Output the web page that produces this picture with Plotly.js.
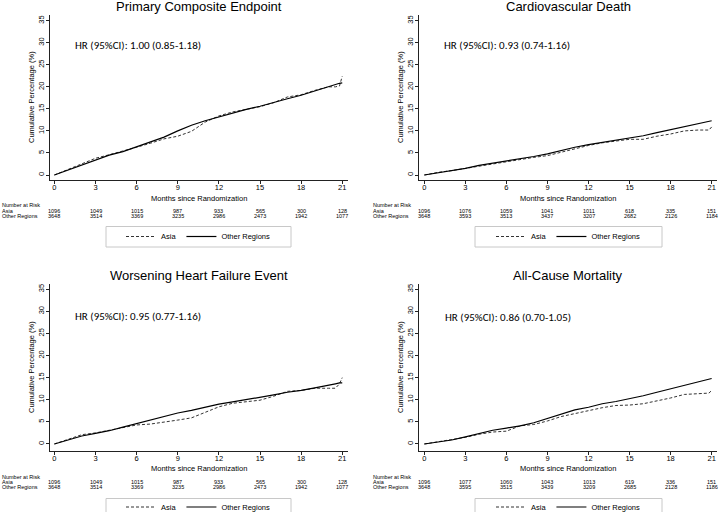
<!DOCTYPE html>
<html><head><meta charset="utf-8">
<script src="https://cdn.plot.ly/plotly-3.0.1.min.js"></script>
<style>html,body{margin:0;padding:0;background:#fff;}#chart{width:719px;height:512px;}</style>
</head><body><div id="chart"></div>
<script>
// ---------- data ----------
const months = [0,1,2,3,4,5,6,7,8,9,10,11,12,13,14,15,16,17,18,19,20,20.5,20.8,21];

const primaryAsia  = [0,1.3,2.6,3.8,4.6,5.4,6.3,7.2,8.2,8.8,9.9,12.0,13.4,14.3,14.9,15.5,16.4,17.7,18.2,19.2,20.0,20.0,20.2,22.4];
const primaryOther = [0,1.1,2.2,3.4,4.5,5.3,6.4,7.4,8.6,10.0,11.3,12.3,13.2,14.1,14.9,15.6,16.5,17.3,18.1,19.1,20.1,20.6,20.8,20.9];

const cvDeathAsia  = [0,0.6,1.0,1.5,2.1,2.6,3.0,3.5,4.0,4.4,5.2,6.0,6.7,7.3,7.7,8.1,8.1,8.8,9.3,10.0,10.2,10.2,10.2,10.9];
const cvDeathOther = [0,0.5,1.0,1.5,2.2,2.7,3.1,3.6,4.2,4.8,5.6,6.3,6.9,7.4,7.8,8.3,8.9,9.6,10.3,11.0,11.7,12.1,12.2,12.3];

const whfAsia  = [0,1.0,2.1,2.5,3.1,3.8,4.3,4.5,4.9,5.4,5.9,7.2,8.4,9.2,9.5,9.9,10.8,11.9,12.1,12.6,12.6,12.6,13.6,15.0];
const whfOther = [0,0.9,1.8,2.4,3.0,3.8,4.6,5.5,6.3,7.0,7.6,8.3,9.0,9.5,10.0,10.5,11.1,11.7,12.1,12.7,13.2,13.6,13.8,13.8];

const acmAsia  = [0,0.5,0.9,1.5,2.2,2.7,2.9,4.1,4.4,5.2,6.2,6.9,7.6,8.2,8.7,8.8,9.1,9.7,10.4,11.2,11.4,11.5,11.5,12.1];
const acmOther = [0,0.4,0.9,1.6,2.4,3.1,3.6,4.1,4.8,5.8,6.8,7.7,8.3,9.1,9.6,10.2,10.9,11.7,12.5,13.2,14.0,14.5,14.7,14.8];

const riskMonths = [0,3,6,9,12,15,18,21];
const riskPrimaryAsia  = [1096,1049,1015,987,933,565,300,128];
const riskPrimaryOther = [3648,3514,3369,3235,2986,2473,1942,1077];
const riskCvAsia  = [1096,1076,1059,1041,1011,618,335,151];
const riskCvOther = [3648,3593,3513,3437,3207,2682,2126,1184];
const riskWhfAsia  = [1096,1049,1015,987,933,565,300,128];
const riskWhfOther = [3648,3514,3369,3235,2986,2473,1942,1077];
const riskAcmAsia  = [1096,1077,1060,1043,1013,619,336,151];
const riskAcmOther = [3648,3595,3515,3439,3209,2685,2128,1186];

const panelTitles = ['Primary Composite Endpoint','Cardiovascular Death','Worsening Heart Failure Event','All-Cause Mortality'];
const hrTexts = ['HR (95%CI): 1.00 (0.85-1.18)','HR (95%CI): 0.93 (0.74-1.16)','HR (95%CI): 0.95 (0.77-1.16)','HR (95%CI): 0.86 (0.70-1.05)'];
const groupNames = ['Asia','Other Regions'];
const xTickVals = [0,3,6,9,12,15,18,21];
const yTickVals = [0,5,10,15,20,25,30,35];
const xTitle = 'Months since Randomization';
const yTitle = 'Cumulative Percentage (%)';
const riskHeader = 'Number at Risk';

const seriesAsia  = [primaryAsia, cvDeathAsia, whfAsia, acmAsia];
const seriesOther = [primaryOther, cvDeathOther, whfOther, acmOther];
const riskAsia  = [riskPrimaryAsia, riskCvAsia, riskWhfAsia, riskAcmAsia];
const riskOther = [riskPrimaryOther, riskCvOther, riskWhfOther, riskAcmOther];

// ---------- layout geometry (pixels) ----------
const W = 719, H = 512;
const px = v => v / W;
const py = v => 1 - v / H;
const FONT = '"Liberation Sans", Arial, sans-serif';
const HRFONT = 'Carlito, Lato, "Liberation Sans", sans-serif';

const panels = [
  {xd:[50,348],  yd:[15,180],    xr:[-0.32,21.42], yr:[-1.13,36.29], titleY:6.5, hrX:72.7,  hrY:45,    labX:0,   riskY:[204.5,210.8,216], xTitleY:198,   yTitleX:31.5, legText:236.5, box:[106,291,226.5,247], legX:121},
  {xd:[419,717], yd:[15,180],    xr:[-0.39,21.39], yr:[-1.13,36.29], titleY:6.5, hrX:441.7, hrY:45,    labX:371, riskY:[204.5,210.8,216], xTitleY:198,   yTitleX:400.5, legText:236.5, box:[475,662,226.5,247], legX:491},
  {xd:[50,348],  yd:[284.3,450.7], xr:[-0.32,21.42], yr:[-1.52,36.1], titleY:275, hrX:72.7,  hrY:316.7, labX:0,   riskY:[476.5,482.3,487.3], xTitleY:468, yTitleX:31.5, legText:507, box:[106,291,498.5,520], legX:121},
  {xd:[419,717], yd:[284.3,450.7], xr:[-0.39,21.39], yr:[-1.52,36.1], titleY:275.5, hrX:442.7, hrY:317.3, labX:371, riskY:[476.5,482.3,487.3], xTitleY:468, yTitleX:400.5, legText:507, box:[475,662,498.5,520], legX:491}
];

const traces = [];
const annotations = [];
const shapes = [];
const layout = {
  width: W, height: H,
  margin: {l:0, r:0, t:0, b:0, pad:0, autoexpand:false},
  paper_bgcolor: '#fff', plot_bgcolor: '#fff',
  font: {family: FONT, color: '#000', size: 8},
  showlegend: true,
  annotations: annotations,
  shapes: shapes
};

panels.forEach((p, i) => {
  const n = i === 0 ? '' : String(i + 1);
  const xa = 'x' + n, ya = 'y' + n;
  const legName = 'legend' + n;

  traces.push({
    x: months, y: seriesAsia[i], type: 'scatter', mode: 'lines', name: groupNames[0],
    xaxis: xa, yaxis: ya, legend: legName,
    line: {color: '#333', width: 1, dash: '3px,2px'}, hoverinfo: 'skip'
  });
  traces.push({
    x: months, y: seriesOther[i], type: 'scatter', mode: 'lines', name: groupNames[1],
    xaxis: xa, yaxis: ya, legend: legName,
    line: {color: '#000', width: 1.2}, hoverinfo: 'skip'
  });

  const axCommon = {
    showgrid: false, zeroline: false, showline: true, linecolor: '#222', linewidth: 1,
    ticks: 'outside', ticklen: 3, tickwidth: 1, tickcolor: '#222',
    tickfont: {family: FONT, size: 7.5, color: '#000'}, fixedrange: true
  };
  layout['xaxis' + n] = Object.assign({}, axCommon, {
    domain: [px(p.xd[0]), px(p.xd[1])], range: p.xr, anchor: ya,
    tickmode: 'array', tickvals: xTickVals, ticktext: xTickVals.map(String),
    ticklabelstandoff: -3
  });
  layout['yaxis' + n] = Object.assign({}, axCommon, {
    domain: [py(p.yd[1]), py(p.yd[0])], range: p.yr, anchor: xa,
    tickmode: 'array', tickvals: yTickVals, ticktext: yTickVals.map(String), tickangle: -90,
    ticklabelstandoff: -1
  });

  layout[legName] = {
    x: px(p.legX), xanchor: 'left',
    y: py(p.legText), yanchor: 'middle', orientation: 'h',
    font: {family: FONT, size: 7.5, color: '#000'},
    borderwidth: 0, bgcolor: 'rgba(0,0,0,0)',
    traceorder: 'normal'
  };

  shapes.push({type:'rect', xref:'paper', yref:'paper',
    x0: px(p.box[0]), x1: px(p.box[1]), y0: py(p.box[3]), y1: py(p.box[2]),
    line: {color:'#c8c8c8', width:1}, fillcolor:'rgba(0,0,0,0)', layer:'below'});

  const cx = (p.xd[0] + p.xd[1]) / 2;
  annotations.push({text: panelTitles[i], xref:'paper', yref:'paper', x: px(cx), y: py(p.titleY),
    xanchor:'center', yanchor:'middle', showarrow:false, font:{family: FONT, size: 13, color:'#000'}});
  annotations.push({text: hrTexts[i], xref:'paper', yref:'paper', x: px(p.hrX), y: py(p.hrY),
    xanchor:'left', yanchor:'middle', showarrow:false, font:{family: HRFONT, size: 11, color:'#000'}});
  annotations.push({text: xTitle, xref:'paper', yref:'paper', x: px(cx), y: py(p.xTitleY),
    xanchor:'center', yanchor:'middle', showarrow:false, font:{family: FONT, size: 7.5, color:'#000'}});
  annotations.push({text: yTitle, xref:'paper', yref:'paper', x: px(p.yTitleX), y: py((p.yd[0] + p.yd[1]) / 2),
    xanchor:'center', yanchor:'middle', textangle: -90, showarrow:false, font:{family: FONT, size: 7.5, color:'#000'}});

  const labs = [riskHeader, groupNames[0], groupNames[1]];
  labs.forEach((t, k) => annotations.push({text: t, xref:'paper', yref:'paper', x: px(p.labX), y: py(p.riskY[k]),
    xanchor:'left', yanchor:'middle', showarrow:false, font:{family: FONT, size: 5.5, color:'#000'}}));
  riskMonths.forEach((m, k) => {
    annotations.push({text: String(riskAsia[i][k]), xref: xa, yref:'paper', x: m, y: py(p.riskY[1]),
      xanchor:'center', yanchor:'middle', showarrow:false, font:{family: FONT, size: 5.5, color:'#000'}});
    annotations.push({text: String(riskOther[i][k]), xref: xa, yref:'paper', x: m, y: py(p.riskY[2]),
      xanchor:'center', yanchor:'middle', showarrow:false, font:{family: FONT, size: 5.5, color:'#000'}});
  });
});

Plotly.newPlot('chart', traces, layout, {displayModeBar: false, staticPlot: true});
</script>
</body></html>
